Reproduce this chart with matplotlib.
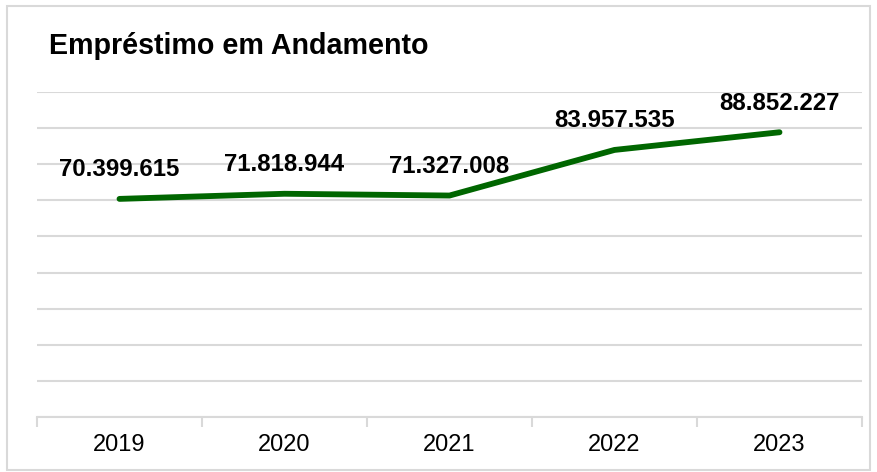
import matplotlib
matplotlib.use("Agg")
import matplotlib.pyplot as plt
from matplotlib.patches import Rectangle
from matplotlib.ticker import MultipleLocator, FixedLocator, NullFormatter

# data
years = ["2019", "2020", "2021", "2022", "2023"]
valores = [70399615, 71818944, 71327008, 83957535, 88852227]
rotulos = ["70.399.615", "71.818.944", "71.327.008", "83.957.535", "88.852.227"]

plt.rcParams["font.family"] = ["Liberation Sans", "DejaVu Sans"]

fig = plt.figure(figsize=(8.77, 4.72), dpi=100)
W, H = 877, 472

# outer frame of the chart
fig.patches.append(Rectangle((7 / W, 1 - 470 / H), 863 / W, 464 / H,
                             transform=fig.transFigure, fill=False,
                             edgecolor="#d9d9d9", linewidth=1.5))

ax = fig.add_axes([37 / W, 1 - 417 / H, 825 / W, 325 / H])

x = list(range(len(years)))
ax.plot(x, valores, color="#006600", linewidth=4.2, solid_capstyle="round",
        solid_joinstyle="round", zorder=3)

for xi, v, lab in zip(x, valores, rotulos):
    ax.annotate(lab, (xi, v), xytext=(0, 29), textcoords="offset pixels",
                ha="center", va="center", fontsize=17.3, fontweight="bold",
                color="black", zorder=4)

ax.set_xlim(-0.5, len(years) - 0.5)
ax.set_ylim(10_000_000, 100_000_000)

ax.yaxis.set_major_locator(MultipleLocator(10_000_000))
ax.yaxis.set_major_formatter(NullFormatter())
ax.tick_params(axis="y", length=0)
ax.grid(axis="y", color="#d9d9d9", linewidth=1.5)
ax.set_axisbelow(True)

# category labels centered, ticks on boundaries
ax.set_xticks(x)
ax.set_xticklabels(years, fontsize=17)
ax.tick_params(axis="x", which="major", length=0, pad=12)
ax.xaxis.set_minor_locator(FixedLocator([i - 0.5 for i in range(len(years) + 1)]))
ax.tick_params(axis="x", which="minor", length=7, width=1.5, color="#d9d9d9")

for s in ["top", "right", "left"]:
    ax.spines[s].set_visible(False)
ax.spines["bottom"].set_color("#d9d9d9")
ax.spines["bottom"].set_linewidth(1.5)

fig.text(49 / W, 1 - 54 / H, "Empréstimo em Andamento", fontsize=20.6,
         fontweight="bold", ha="left", va="baseline")

fig.savefig("out.png", dpi=100)
